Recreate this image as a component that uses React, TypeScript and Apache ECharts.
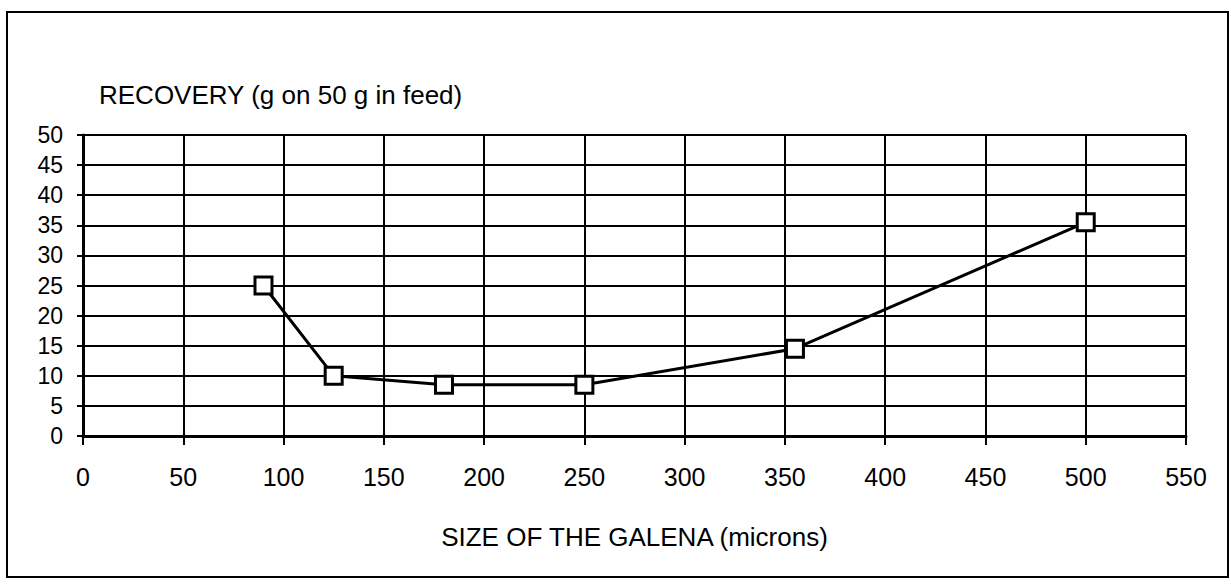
import React, { useEffect, useRef } from "react";
import * as echarts from "echarts";

const sizes = [90, 125, 180, 250, 355, 500];
const recovery = [25, 10, 8.5, 8.5, 14.5, 35.5];
const yTitle = "RECOVERY (g on 50 g in feed)";
const xTitle = "SIZE OF THE GALENA (microns)";

export default function App() {
  const ref = useRef<HTMLDivElement>(null);
  useEffect(() => {
    document.body.style.margin = "0";
    const chart = echarts.init(ref.current!, null, { renderer: "svg" });
    const font = "'Liberation Sans', Arial, Helvetica, sans-serif";
    chart.setOption({
      animation: false,
      backgroundColor: "#ffffff",
      grid: { left: 83, right: 45, top: 135, bottom: 150, containLabel: false },
      xAxis: {
        type: "value",
        min: 0,
        max: 550,
        interval: 50,
        name: xTitle,
        nameLocation: "middle",
        nameGap: 88,
        nameTextStyle: { color: "#000", fontSize: 26, fontFamily: font },
        axisLine: { show: true, lineStyle: { color: "#000", width: 3 } },
        axisTick: { show: true, length: 9, lineStyle: { color: "#000", width: 2 } },
        axisLabel: { color: "#000", fontSize: 25, fontFamily: font, margin: 28 },
        splitLine: { show: true, lineStyle: { color: "#000", width: 2 } },
      },
      yAxis: {
        type: "value",
        min: 0,
        max: 50,
        interval: 5,
        axisLine: { show: true, lineStyle: { color: "#000", width: 3 } },
        axisTick: { show: true, length: 6, lineStyle: { color: "#000", width: 2 } },
        axisLabel: { color: "#000", fontSize: 23, fontFamily: font, margin: 20 },
        splitLine: { show: true, lineStyle: { color: "#000", width: 2 } },
      },
      graphic: [
        {
          type: "rect",
          shape: { x: 7, y: 12, width: 1221, height: 565 },
          style: { fill: "none", stroke: "#000", lineWidth: 2 },
          silent: true,
        },
        {
          type: "text",
          left: 99,
          top: 82,
          style: { text: yTitle, fill: "#000", fontSize: 26, fontFamily: font },
        },
      ],
      series: [
        {
          type: "line",
          data: sizes.map((s, i) => [s, recovery[i]]),
          symbol: "rect",
          symbolSize: 17,
          lineStyle: { color: "#000", width: 3 },
          itemStyle: { color: "#fff", borderColor: "#000", borderWidth: 3 },
          z: 5,
        },
      ],
    });
    return () => chart.dispose();
  }, []);
  return <div ref={ref} style={{ width: 1231, height: 586 }} />;
}
